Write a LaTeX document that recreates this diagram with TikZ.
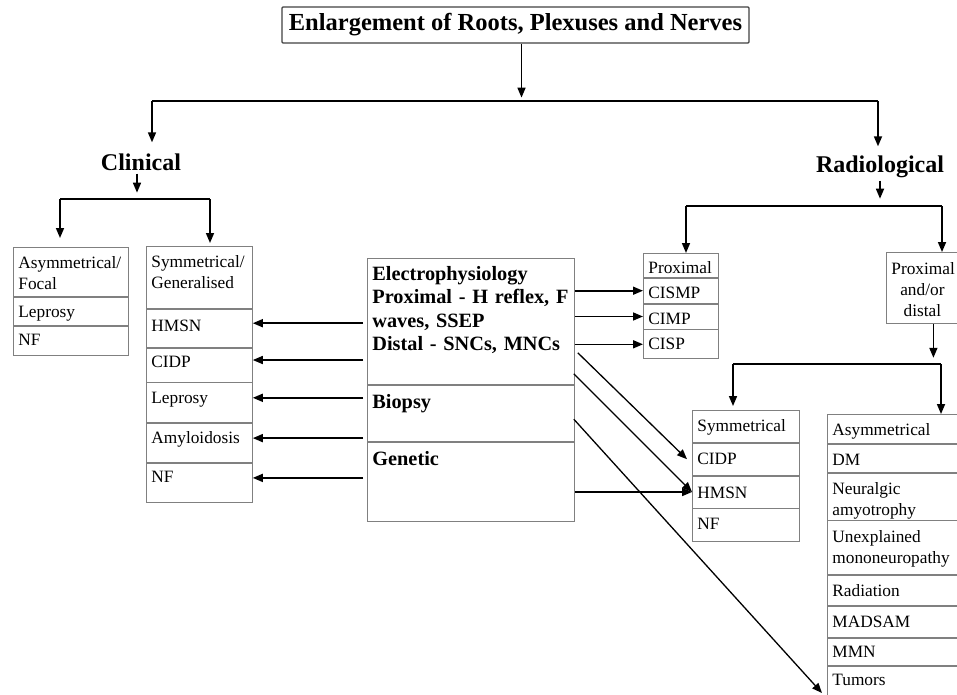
\documentclass[tikz,border=0pt]{standalone}
\usepackage{fontspec}
\setmainfont{Liberation Serif}
\usetikzlibrary{arrows.meta,calc}

\begin{document}
\begin{tikzpicture}[x=1pt,y=-1pt,
    >={Triangle[length=10pt,width=8pt]},
    bar/.style={line width=1.7pt},
    arr/.style={->,line width=1.6pt},
    diag/.style={->,line width=1.3pt},
    head/.style={font=\fontsize{24}{28}\selectfont\bfseries,inner sep=3pt},
    cell/.style 2 args={draw=gray,line width=0.8pt,anchor=north west,inner xsep=5pt,inner ysep=0pt,
      align=left,text height=#1pt,text depth=#2pt,font=\fontsize{17.3}{21}\selectfont}]
  \useasboundingbox (0,0) rectangle (957,694);
  \clip (0,0) rectangle (957,694);

  \node[draw=black!75,line width=1.2pt,rounded corners=1pt,minimum width=467pt,minimum height=36pt,
    inner sep=0pt,font=\fontsize{24.5}{28}\selectfont\bfseries] (title) at (515.5,25)
    {Enlargement of Roots, Plexuses and Nerves};
  \node[head] (clin) at (141,162) {Clinical};
  \node[head] (rad) at (880,166.5) {Radiological};

  % clinical side
  \begin{scope}[text width=105pt]
    \node[cell={21}{28}] (a1) at (13,247) {Asymmetrical/\\Focal};
    \node[cell={20}{8}] (a2) at (a1.south west) {Leprosy};
    \node[cell={19}{10}] (a3) at (a2.south west) {NF};
  \end{scope}
  \begin{scope}[text width=96pt]
    \node[cell={21}{41}] (s1) at (146,246) {Symmetrical/\\Generalised};
    \node[cell={22}{16}] (s2) at (s1.south west) {HMSN};
    \node[cell={19}{15}] (s3) at (s2.south west) {CIDP};
    \node[cell={21}{19}] (s4) at (s3.south west) {Leprosy};
    \node[cell={20}{19}] (s5) at (s4.south west) {Amyloidosis};
    \node[cell={19}{20}] (s6) at (s5.south west) {NF};
  \end{scope}

  % investigations
  \begin{scope}[text width=197pt,font=\fontsize{20.3}{23.5}\selectfont\bfseries]
    \node[cell={22}{104},font=\fontsize{20.3}{23.5}\selectfont\bfseries] (e1) at (367,258)
      {Electrophysiology\\Proximal - H reflex, F\\waves, SSEP\\Distal - SNCs, MNCs};
    \node[cell={23}{33},font=\fontsize{20.3}{23.5}\selectfont\bfseries] (e2) at (e1.south west) {Biopsy};
    \node[cell={23}{56},font=\fontsize{20.3}{23.5}\selectfont\bfseries] (e3) at (e2.south west) {Genetic};
  \end{scope}

  % radiological side
  \begin{scope}[text width=65pt]
    \node[cell={20}{4}] (p1) at (643,253) {Proximal};
    \node[cell={20}{5}] (p2) at (p1.south west) {CISMP};
    \node[cell={20}{5}] (p3) at (p2.south west) {CIMP};
    \node[cell={20}{9}] (p4) at (p3.south west) {CISP};
  \end{scope}
  \node[cell={22}{49},text width=62pt,align=center] (pd) at (886,252) {Proximal\\and/or\\distal};
  \begin{scope}[text width=97pt]
    \node[cell={21}{11}] (y1) at (692,410) {Symmetrical};
    \node[cell={21}{11}] (y2) at (y1.south west) {CIDP};
    \node[cell={22}{10}] (y3) at (y2.south west) {HMSN};
    \node[cell={21}{12}] (y4) at (y3.south west) {NF};
  \end{scope}
  \begin{scope}[text width=123pt]
    \node[cell={21}{8}] (z1) at (827,414) {Asymmetrical};
    \node[cell={21}{7}] (z2) at (z1.south west) {DM};
    \node[cell={21}{26}] (z3) at (z2.south west) {Neuralgic\\amyotrophy};
    \node[cell={22}{32}] (z4) at (z3.south west) {Unexplained\\mononeuropathy};
    \node[cell={21}{9}] (z5) at (z4.south west) {Radiation};
    \node[cell={21}{10}] (z6) at (z5.south west) {MADSAM};
    \node[cell={19}{8}] (z7) at (z6.south west) {MMN};
    \node[cell={19}{21}] (z8) at (z7.south west) {Tumors};
  \end{scope}

  % top tree
  \coordinate (m1) at (152,101);
  \coordinate (m2) at (878,101);
  \draw[arr] ([xshift=6pt]title.south) -- ++(0,54);
  \draw[bar] (m1) -- (m2);
  \draw[arr,shorten >=8pt] (m1) -- (m1 |- clin.north);
  \draw[arr,shorten >=6pt] (m2) -- (m2 |- rad.north);

  \coordinate (c1) at (60,199);
  \coordinate (c2) at (210,199);
  \draw[arr] ([xshift=-4pt]clin.south) -- ++(0,19);
  \draw[bar] (c1) -- (c2);
  \draw[arr,shorten >=9pt] (c1) -- (c1 |- a1.north);
  \draw[arr,shorten >=3pt] (c2) -- (c2 |- s1.north);

  \coordinate (r1) at (686,206);
  \coordinate (r2) at (942,206);
  \draw[arr] (rad.south) -- ++(0,18);
  \draw[bar] (r1) -- (r2);
  \draw[arr] (r1) -- (r1 |- p1.north);
  \draw[arr] (r2) -- (r2 |- pd.north);

  \coordinate (q1) at (733,364);
  \coordinate (q2) at (941,364);
  \draw[arr] ([xshift=11pt]pd.south) -- ++(0,34);
  \draw[bar] (q1) -- (q2);
  \draw[arr,shorten >=4pt] (q1) -- (q1 |- y1.north);
  \draw[arr] (q2) -- (q2 |- z1.north);

  % investigations to diseases
  \foreach \c in {s2,s3,s4,s5,s6}
    \draw[arr] ($(e1.west |- \c.east)+(-4,-5)$) -- ($(\c.east)+(0,-5)$);
  \foreach \c in {p2,p3,p4}
    \draw[arr] (e1.east |- \c.west) -- (\c.west);
  \draw[diag] ($(e1.south east)+(3,-32)$) -- ($(y2.west)+(-5,0)$);
  \draw[diag] ($(e1.south east)+(-1,-11)$) -- (y3.west);
  \draw[arr] (e3.east |- y3.west) -- (y3.west);
  \draw[diag] ($(e2.east)+(-1,6)$) -- ($(z8.west)+(-5,7)$);
\end{tikzpicture}
\end{document}
